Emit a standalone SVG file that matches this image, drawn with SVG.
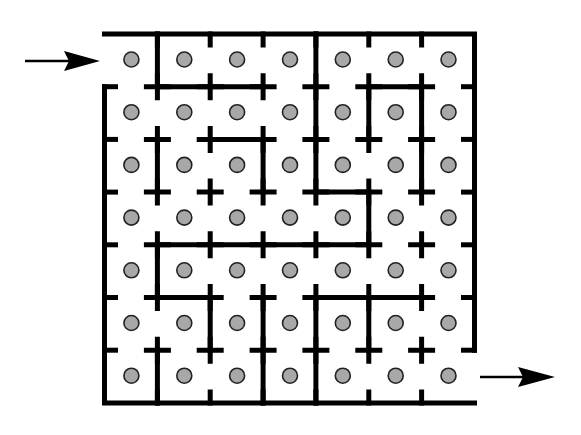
<svg xmlns="http://www.w3.org/2000/svg" xmlns:xlink="http://www.w3.org/1999/xlink" width="581" height="435" viewBox="0 0 581 435">
<style>
.w{stroke:#000;stroke-width:5;fill:none;stroke-linecap:square}
.d{fill:#a8a8a8;stroke:#222;stroke-width:1.6}
.a{stroke:#000;stroke-width:2.4;fill:none}
.ah{fill:#000}
</style>
<defs>
<path id="p" d="M-11 0H11M0-11V11"/>
<path id="td" d="M0 0V11"/>
<path id="tu" d="M0 0V-11"/>
<path id="tr" d="M0 0H11"/>
<path id="tl" d="M0 0H-11"/>
</defs>
<rect width="581" height="435" fill="#fff"/>
<g id="dots">
<circle class="d" cx="131.4" cy="59.5" r="7.5"/><circle class="d" cx="184.3" cy="59.5" r="7.5"/><circle class="d" cx="237.1" cy="59.5" r="7.5"/><circle class="d" cx="290" cy="59.5" r="7.5"/><circle class="d" cx="342.8" cy="59.5" r="7.5"/><circle class="d" cx="395.7" cy="59.5" r="7.5"/><circle class="d" cx="448.5" cy="59.5" r="7.5"/>
<circle class="d" cx="131.4" cy="112.2" r="7.5"/><circle class="d" cx="184.3" cy="112.2" r="7.5"/><circle class="d" cx="237.1" cy="112.2" r="7.5"/><circle class="d" cx="290" cy="112.2" r="7.5"/><circle class="d" cx="342.8" cy="112.2" r="7.5"/><circle class="d" cx="395.7" cy="112.2" r="7.5"/><circle class="d" cx="448.5" cy="112.2" r="7.5"/>
<circle class="d" cx="131.4" cy="164.9" r="7.5"/><circle class="d" cx="184.3" cy="164.9" r="7.5"/><circle class="d" cx="237.1" cy="164.9" r="7.5"/><circle class="d" cx="290" cy="164.9" r="7.5"/><circle class="d" cx="342.8" cy="164.9" r="7.5"/><circle class="d" cx="395.7" cy="164.9" r="7.5"/><circle class="d" cx="448.5" cy="164.9" r="7.5"/>
<circle class="d" cx="131.4" cy="217.6" r="7.5"/><circle class="d" cx="184.3" cy="217.6" r="7.5"/><circle class="d" cx="237.1" cy="217.6" r="7.5"/><circle class="d" cx="290" cy="217.6" r="7.5"/><circle class="d" cx="342.8" cy="217.6" r="7.5"/><circle class="d" cx="395.7" cy="217.6" r="7.5"/><circle class="d" cx="448.5" cy="217.6" r="7.5"/>
<circle class="d" cx="131.4" cy="270.3" r="7.5"/><circle class="d" cx="184.3" cy="270.3" r="7.5"/><circle class="d" cx="237.1" cy="270.3" r="7.5"/><circle class="d" cx="290" cy="270.3" r="7.5"/><circle class="d" cx="342.8" cy="270.3" r="7.5"/><circle class="d" cx="395.7" cy="270.3" r="7.5"/><circle class="d" cx="448.5" cy="270.3" r="7.5"/>
<circle class="d" cx="131.4" cy="323" r="7.5"/><circle class="d" cx="184.3" cy="323" r="7.5"/><circle class="d" cx="237.1" cy="323" r="7.5"/><circle class="d" cx="290" cy="323" r="7.5"/><circle class="d" cx="342.8" cy="323" r="7.5"/><circle class="d" cx="395.7" cy="323" r="7.5"/><circle class="d" cx="448.5" cy="323" r="7.5"/>
<circle class="d" cx="131.4" cy="375.7" r="7.5"/><circle class="d" cx="184.3" cy="375.7" r="7.5"/><circle class="d" cx="237.1" cy="375.7" r="7.5"/><circle class="d" cx="290" cy="375.7" r="7.5"/><circle class="d" cx="342.8" cy="375.7" r="7.5"/><circle class="d" cx="395.7" cy="375.7" r="7.5"/><circle class="d" cx="448.5" cy="375.7" r="7.5"/>
</g>
<g id="walls" class="w">
<path d="M104.5 34H474.5V350.2M104.5 403H474.5M104.5 86.7V403"/>
<path d="M157.4 34V86.7H263.1"/>
<path d="M157.4 139.4V192.1"/>
<path d="M210.2 139.4H263.1V192.1"/>
<path d="M315.9 34V192.1H368.8V244.8H157.4V297.5H210.2V350.2"/>
<path d="M368.8 139.4V86.7H421.6V192.1"/>
<path d="M263.1 297.5V403"/>
<path d="M157.4 350.2V403"/>
<path d="M315.9 403V297.5H421.6"/>
<path d="M368.8 297.5V350.2"/>
</g>
<g id="ticks" class="w">
<use href="#p" x="157.4" y="86.7"/><use href="#p" x="210.2" y="86.7"/><use href="#p" x="263.1" y="86.7"/><use href="#p" x="315.9" y="86.7"/><use href="#p" x="368.8" y="86.7"/><use href="#p" x="421.6" y="86.7"/>
<use href="#p" x="157.4" y="139.4"/><use href="#p" x="210.2" y="139.4"/><use href="#p" x="263.1" y="139.4"/><use href="#p" x="315.9" y="139.4"/><use href="#p" x="368.8" y="139.4"/><use href="#p" x="421.6" y="139.4"/>
<use href="#p" x="157.4" y="192.1"/><use href="#p" x="210.2" y="192.1"/><use href="#p" x="263.1" y="192.1"/><use href="#p" x="315.9" y="192.1"/><use href="#p" x="368.8" y="192.1"/><use href="#p" x="421.6" y="192.1"/>
<use href="#p" x="157.4" y="244.8"/><use href="#p" x="210.2" y="244.8"/><use href="#p" x="263.1" y="244.8"/><use href="#p" x="315.9" y="244.8"/><use href="#p" x="368.8" y="244.8"/><use href="#p" x="421.6" y="244.8"/>
<use href="#p" x="157.4" y="297.5"/><use href="#p" x="210.2" y="297.5"/><use href="#p" x="263.1" y="297.5"/><use href="#p" x="315.9" y="297.5"/><use href="#p" x="368.8" y="297.5"/><use href="#p" x="421.6" y="297.5"/>
<use href="#p" x="157.4" y="350.2"/><use href="#p" x="210.2" y="350.2"/><use href="#p" x="263.1" y="350.2"/><use href="#p" x="315.9" y="350.2"/><use href="#p" x="368.8" y="350.2"/><use href="#p" x="421.6" y="350.2"/>
<use href="#td" x="157.4" y="34"/><use href="#td" x="210.2" y="34"/><use href="#td" x="263.1" y="34"/><use href="#td" x="315.9" y="34"/><use href="#td" x="368.8" y="34"/><use href="#td" x="421.6" y="34"/>
<use href="#tu" x="157.4" y="403"/><use href="#tu" x="210.2" y="403"/><use href="#tu" x="263.1" y="403"/><use href="#tu" x="315.9" y="403"/><use href="#tu" x="368.8" y="403"/><use href="#tu" x="421.6" y="403"/>
<use href="#tr" x="104.5" y="86.7"/><use href="#tr" x="104.5" y="139.4"/><use href="#tr" x="104.5" y="192.1"/><use href="#tr" x="104.5" y="244.8"/><use href="#tr" x="104.5" y="297.5"/><use href="#tr" x="104.5" y="350.2"/>
<use href="#tl" x="474.5" y="86.7"/><use href="#tl" x="474.5" y="139.4"/><use href="#tl" x="474.5" y="192.1"/><use href="#tl" x="474.5" y="244.8"/><use href="#tl" x="474.5" y="297.5"/><use href="#tl" x="474.5" y="350.2"/>
</g>
<g id="connectors">
<g id="entry-arrow"><path class="a" d="M25 61H72"/><polygon class="ah" points="100,61 64,51 69,61 64,71"/></g>
<g id="exit-arrow"><path class="a" d="M480 377H524"/><polygon class="ah" points="555,377 518,367 523,377 518,387"/></g>
</g>
</svg>
